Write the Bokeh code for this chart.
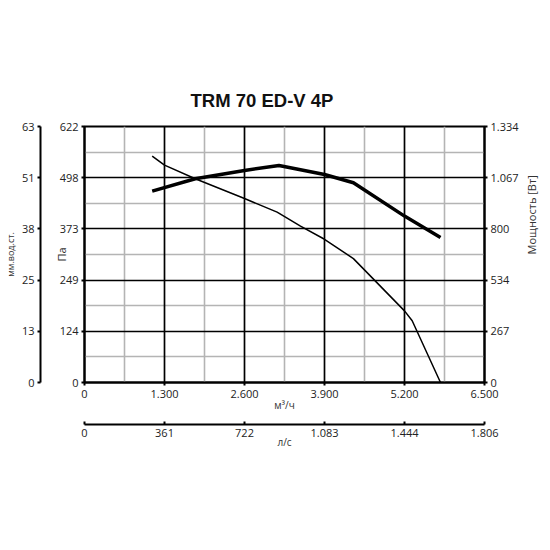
import math
from bokeh.plotting import figure
from bokeh.models import Range1d, LinearAxis, FixedTicker, Grid
from bokeh.embed import file_html
from bokeh.resources import INLINE

# ---- data ----
title_text = "TRM 70 ED-V 4P"
flow_p = [1100, 1300, 1800, 2600, 3130, 3510, 3900, 4370, 5200, 5325, 5785]
pressure_pa = [550, 528, 495, 447, 414, 380, 348, 301, 174, 150, 0]
flow_w = [1100, 1800, 2600, 3160, 3900, 4370, 5200, 5785]
power_w = [997, 1062, 1105, 1131, 1084, 1041, 867, 755]

x_ticks = [0, 1300, 2600, 3900, 5200, 6500]
x_labels = ["0", "1.300", "2.600", "3.900", "5.200", "6.500"]
x_minor = [650, 1950, 3250, 4550, 5850]
ls_ticks = [0, 361.2, 722.4, 1083.6, 1444.8, 1806]
ls_labels = ["0", "361", "722", "1.083", "1.444", "1.806"]
pa_ticks = [0, 124.4, 248.8, 373.2, 497.6, 622]
pa_labels = ["0", "124", "249", "373", "498", "622"]
pa_minor = [62.2, 186.6, 311.0, 435.4, 559.8]
mm_labels = ["0", "13", "25", "38", "51", "63"]
w_ticks = [0, 266.8, 533.6, 800.4, 1067.2, 1334]
w_labels = ["0", "267", "534", "800", "1.067", "1.334"]

FONT = "Open Sans"

p = figure(width=540, height=455, frame_width=400, frame_height=256,
           x_range=Range1d(0, 6500), y_range=Range1d(0, 622),
           output_backend="svg", toolbar_location=None,
           min_border_left=10, min_border_right=5, min_border_top=126, min_border_bottom=5)
p.extra_y_ranges = {"w": Range1d(0, 1334)}
p.extra_x_ranges = {"ls": Range1d(0, 1806)}

p.title.text = title_text + "\n"
p.title.text_font = "Liberation Sans"
p.title.text_font_size = "18.5px"
p.title.text_font_style = "bold"
p.title.text_color = "#111111"
p.title.text_line_height = 0.45
p.title.align = "left"
p.title.offset = 106
p.title.standoff = 12

p.outline_line_color = "black"
p.outline_line_width = 2
p.background_fill_color = "white"
p.border_fill_color = "white"

# grids: gray minor lines first, black major lines on top
p.xgrid.visible = False
p.ygrid.visible = False
for dim, ticks in ((0, x_minor), (1, pa_minor)):
    p.add_layout(Grid(dimension=dim, ticker=FixedTicker(ticks=ticks),
                      grid_line_color="#b4b4b4", grid_line_width=1.6))
for dim, ticks in ((0, x_ticks), (1, pa_ticks)):
    p.add_layout(Grid(dimension=dim, ticker=FixedTicker(ticks=ticks),
                      grid_line_color="black", grid_line_width=1.7))


def style(ax, size="11px"):
    ax.axis_line_color = "black"
    ax.axis_line_width = 2
    ax.major_tick_line_color = "black"
    ax.major_tick_line_width = 2
    ax.minor_tick_in = 0
    ax.minor_tick_out = 0
    ax.major_label_text_font = FONT
    ax.major_label_text_font_size = size
    ax.major_label_text_color = "#222222"
    ax.axis_label_text_font = FONT
    ax.axis_label_text_font_style = "normal"
    ax.axis_label_text_color = "#333333"


# bottom: m3/h
xa = p.xaxis[0]
style(xa)
xa.ticker = FixedTicker(ticks=x_ticks)
xa.major_label_overrides = dict(zip(x_ticks, x_labels))
xa.major_tick_out = 3
xa.major_tick_in = 0
xa.major_label_standoff = 4
xa.axis_label = "м³/ч\n"
xa.axis_label_text_font_size = "10px"
xa.axis_label_text_line_height = 0.7
xa.axis_label_standoff = -3

# bottom 2: l/s
lsa = LinearAxis(x_range_name="ls")
style(lsa)
lsa.ticker = FixedTicker(ticks=ls_ticks)
lsa.major_label_overrides = dict(zip(ls_ticks, ls_labels))
lsa.major_tick_out = 0
lsa.major_tick_in = 3
lsa.major_label_standoff = 4
lsa.axis_label = "л/с"
lsa.axis_label_text_font_size = "10px"
lsa.axis_label_standoff = -5
p.add_layout(lsa, "below")

# left: Pa
ya = p.yaxis[0]
style(ya)
ya.ticker = FixedTicker(ticks=pa_ticks)
ya.major_label_overrides = dict(zip(pa_ticks, pa_labels))
ya.major_tick_out = 3
ya.major_tick_in = 0
ya.major_label_standoff = 3
ya.axis_label = "\nПа"
ya.axis_label_text_font_size = "11px"
ya.axis_label_text_line_height = 0.7
ya.axis_label_standoff = -12

# left 2: mm water column
mma = LinearAxis()
style(mma)
mma.ticker = FixedTicker(ticks=pa_ticks)
mma.major_label_overrides = dict(zip(pa_ticks, mm_labels))
mma.major_tick_out = 3
mma.major_tick_in = 0
mma.major_label_standoff = 3
mma.axis_label = "мм.вод.ст."
mma.axis_label_text_font_size = "9px"
mma.axis_label_standoff = 2
p.add_layout(mma, "left")

# right: power W
wa = LinearAxis(y_range_name="w")
style(wa)
wa.ticker = FixedTicker(ticks=w_ticks)
wa.major_label_overrides = dict(zip(w_ticks, w_labels))
wa.major_tick_out = 3
wa.major_tick_in = 0
wa.major_label_standoff = 3
wa.axis_label = "Мощность [Вт]"
wa.axis_label_text_font_size = "11px"
wa.axis_label_standoff = 10
wa.axis_label_orientation = math.pi / 2
p.add_layout(wa, "right")

# curves
p.line(flow_p, pressure_pa, line_color="black", line_width=1.5)
p.line(flow_w, power_w, y_range_name="w", line_color="black", line_width=3.5)

open("out.html", "w").write(file_html(p, INLINE))
